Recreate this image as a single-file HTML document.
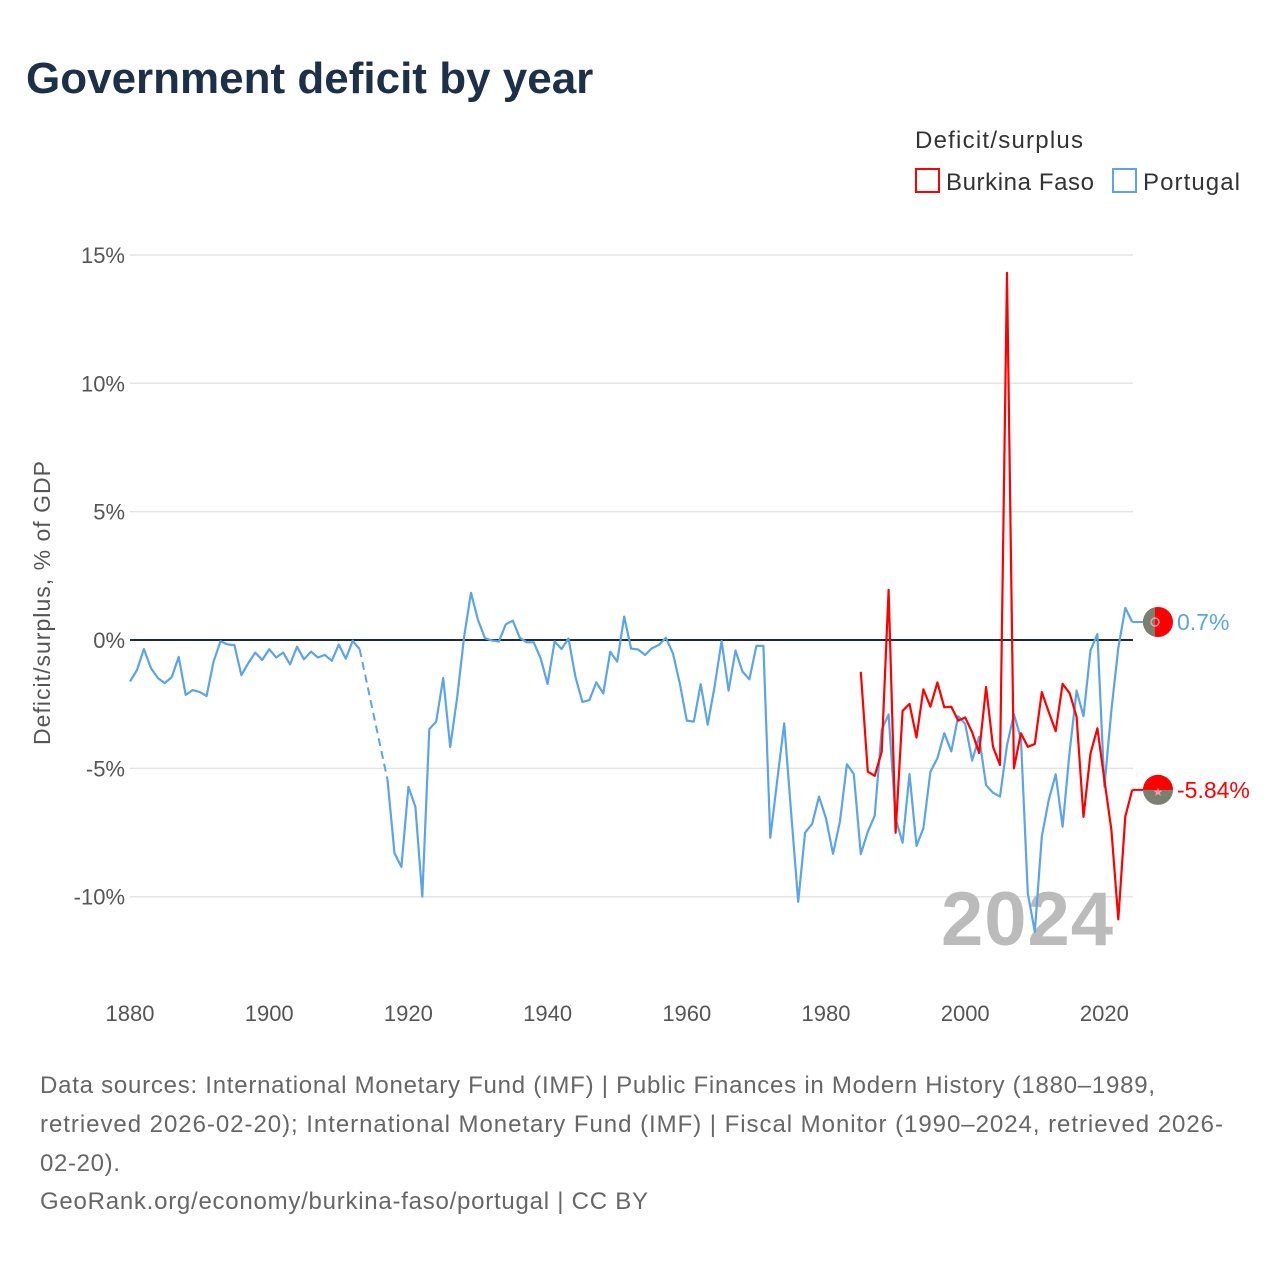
<!DOCTYPE html>
<html><head><meta charset="utf-8">
<style>
html,body{margin:0;padding:0;background:#fff;}
body{width:1280px;height:1280px;overflow:hidden;font-family:"Liberation Sans",sans-serif;}
</style></head>
<body>
<svg id="chart" width="1280" height="1280" viewBox="0 0 1280 1280" xmlns="http://www.w3.org/2000/svg">
<text x="26" y="93" font-size="44" font-weight="bold" fill="#1d3049">Government deficit by year</text>
<text x="915" y="148" font-size="24" fill="#333" textLength="168">Deficit/surplus</text>
<g>
<rect x="916" y="169" width="23" height="23" fill="none" stroke="#f00" stroke-width="2"/>
<text x="946" y="190" font-size="24" fill="#333" textLength="148">Burkina Faso</text></g>
<g>
<rect x="1113" y="169" width="23" height="23" fill="none" stroke="#5ba4e8" stroke-width="2"/>
<text x="1143" y="190" font-size="24" fill="#333" textLength="97">Portugal</text></g>
<g id="grid"></g><g id="yticks"></g><g id="xticks"></g>
<text transform="translate(50,603) rotate(-90)" text-anchor="middle" font-size="23" fill="#555" textLength="284">Deficit/surplus, % of GDP</text>
<text x="1113" y="945" text-anchor="end" font-size="76" font-weight="bold" fill="#bbb" textLength="172">2024</text>
<g id="series"></g>
<g font-size="24" fill="#666">
<text x="40" y="1093" textLength="1115">Data sources: International Monetary Fund (IMF) | Public Finances in Modern History (1880–1989,</text>
<text x="40" y="1132" textLength="1183">retrieved 2026-02-20); International Monetary Fund (IMF) | Fiscal Monitor (1990–2024, retrieved 2026-</text>
<text x="40" y="1171" textLength="80">02-20).</text>
<text x="40" y="1209" textLength="608">GeoRank.org/economy/burkina-faso/portugal | CC BY</text>
</g>
</svg>
<script>
const ptYears0 = 1880;
const portugal = [-1.62,-1.17,-0.35,-1.09,-1.48,-1.68,-1.44,-0.66,-2.14,-1.95,-2.02,-2.18,-0.85,-0.05,-0.17,-0.2,-1.37,-0.9,-0.49,-0.78,-0.36,-0.68,-0.49,-0.95,-0.26,-0.75,-0.45,-0.68,-0.58,-0.81,-0.18,-0.73,-0.03,-0.36,null,null,null,-5.45,-8.3,-8.84,-5.72,-6.5,-10.0,-3.47,-3.18,-1.48,-4.17,-2.26,0.12,1.84,0.78,0.07,-0.02,-0.06,0.61,0.75,0.09,-0.09,-0.09,-0.71,-1.71,-0.06,-0.35,0.06,-1.43,-2.41,-2.34,-1.65,-2.08,-0.46,-0.84,0.91,-0.34,-0.37,-0.58,-0.32,-0.19,0.09,-0.52,-1.69,-3.14,-3.18,-1.72,-3.3,-1.81,-0.04,-1.97,-0.41,-1.23,-1.53,-0.23,-0.23,-7.7,-5.45,-3.25,-6.75,-10.2,-7.5,-7.17,-6.1,-6.95,-8.33,-7.08,-4.84,-5.22,-8.34,-7.47,-6.85,-3.5,-2.9,-6.95,-7.9,-5.22,-8.02,-7.33,-5.13,-4.61,-3.63,-4.34,-2.97,-3.27,-4.7,-3.77,-5.66,-5.95,-6.1,-4.1,-2.89,-3.83,-9.86,-11.37,-7.66,-6.24,-5.23,-7.27,-4.37,-1.97,-2.97,-0.4,0.23,-5.72,-2.73,-0.31,1.25,0.7];
const bfYears0 = 1985;
const burkina = [-1.24,-5.13,-5.29,-4.36,1.95,-7.51,-2.76,-2.49,-3.8,-1.92,-2.6,-1.65,-2.62,-2.6,-3.14,-3.02,-3.6,-4.4,-1.83,-4.16,-4.87,14.3,-5.0,-3.63,-4.16,-4.05,-2.03,-2.8,-3.55,-1.71,-2.07,-2.99,-6.89,-4.42,-3.44,-5.45,-7.4,-10.88,-6.88,-5.84];
const yTicks = [15,10,5,0,-5,-10];
const yTickLabels = ["15%","10%","5%","0%","-5%","-10%"];
const xTicks = [1880,1900,1920,1940,1960,1980,2000,2020];
const lastLabels = ["0.7%","-5.84%"];

const NS="http://www.w3.org/2000/svg";
const X = yr => 130 + (yr-1880)*6.96;
const Y = v => 640 - v*25.67;
function mk(tag, attrs, parent){const e=document.createElementNS(NS,tag);for(const k in attrs)e.setAttribute(k,attrs[k]);parent.appendChild(e);return e;}
const grid=document.getElementById('grid'), yt=document.getElementById('yticks'), xt=document.getElementById('xticks'), ser=document.getElementById('series');
yTicks.forEach((v,i)=>{
  const l=mk('line',{x1:130,x2:1133,y1:Y(v),y2:Y(v),stroke:v===0?'#1d2b3d':'#e4e4e4','stroke-width':v===0?2:1.5},grid);
  
  
  const t=mk('text',{x:125,y:Y(v)+8,'text-anchor':'end','font-size':22,fill:'#555'},yt);
  t.textContent=yTickLabels[i];
  
  
});
xTicks.forEach(yr=>{
  const t=mk('text',{x:X(yr),y:1021,'text-anchor':'middle','font-size':22,fill:'#555'},xt);
  t.textContent=yr;
  
  
});
function drawSeries(vals, y0, color, name){
  let seg=[];
  const segs=[];
  vals.forEach((v,i)=>{
    if(v===null){ if(seg.length){segs.push(seg);} seg=[]; return;}
    const p=[X(y0+i),Y(v)];
    if(seg.length===0 && segs.length>0){
      const last=segs[segs.length-1]; const q=last[last.length-1];
      const d=mk('path',{d:`M${q[0]},${q[1]}L${p[0]},${p[1]}`,fill:'none',stroke:color,'stroke-width':2,'stroke-dasharray':'8,5'},ser);
      
      
    }
    seg.push(p);
  });
  if(seg.length)segs.push(seg);
  segs.forEach(s=>{
    let d='M'+s.map(p=>p[0].toFixed(1)+','+p[1].toFixed(1)).join('L');
    const path=mk('path',{d:d,fill:'none',stroke:color,'stroke-width':2.2,'stroke-linejoin':'round'},ser);
    
    
  });
  const lp=segs[segs.length-1]; return lp[lp.length-1];
}
const pEnd=drawSeries(portugal,ptYears0,'#5ba4e8','portugal');
const bEnd=drawSeries(burkina,bfYears0,'#f00','burkina-faso');
function endMarker(pt,color,name,label,kind){
  const cx=1158, cy=pt[1];
  const s=mk('path',{d:`M${pt[0]},${cy}L${cx-12},${cy}`,stroke:color,'stroke-width':2,fill:'none'},ser);
  
  
  const g=mk('g',{},ser);
  
  
  if(kind==='pt'){
    mk('circle',{cx:cx,cy:cy,r:15,fill:'#f00'},g);
    mk('path',{d:`M${cx-3},${cy-14.7}A15,15 0 0 0 ${cx-3},${cy+14.7}Z`,fill:'#7a8070'},g);
    mk('circle',{cx:cx-3,cy:cy,r:4,fill:'none',stroke:'#f9a',"stroke-width":1.5},g);
  } else {
    mk('circle',{cx:cx,cy:cy,r:15,fill:'#7a8070'},g);
    mk('path',{d:`M${cx-15},${cy}A15,15 0 0 1 ${cx+15},${cy}Z`,fill:'#f00'},g);
    mk('text',{x:cx,y:cy+6,'text-anchor':'middle','font-size':12,fill:'#f9a'},g).textContent='★';
  }
  const t=mk('text',{x:1177,y:cy+8,'font-size':23,fill:color},ser);
  t.textContent=label;
  
  
}
endMarker(pEnd,'#5ba4e8','portugal',lastLabels[0],'pt');
endMarker(bEnd,'#f00','burkina-faso',lastLabels[1],'bf');
</script>
</body></html>
